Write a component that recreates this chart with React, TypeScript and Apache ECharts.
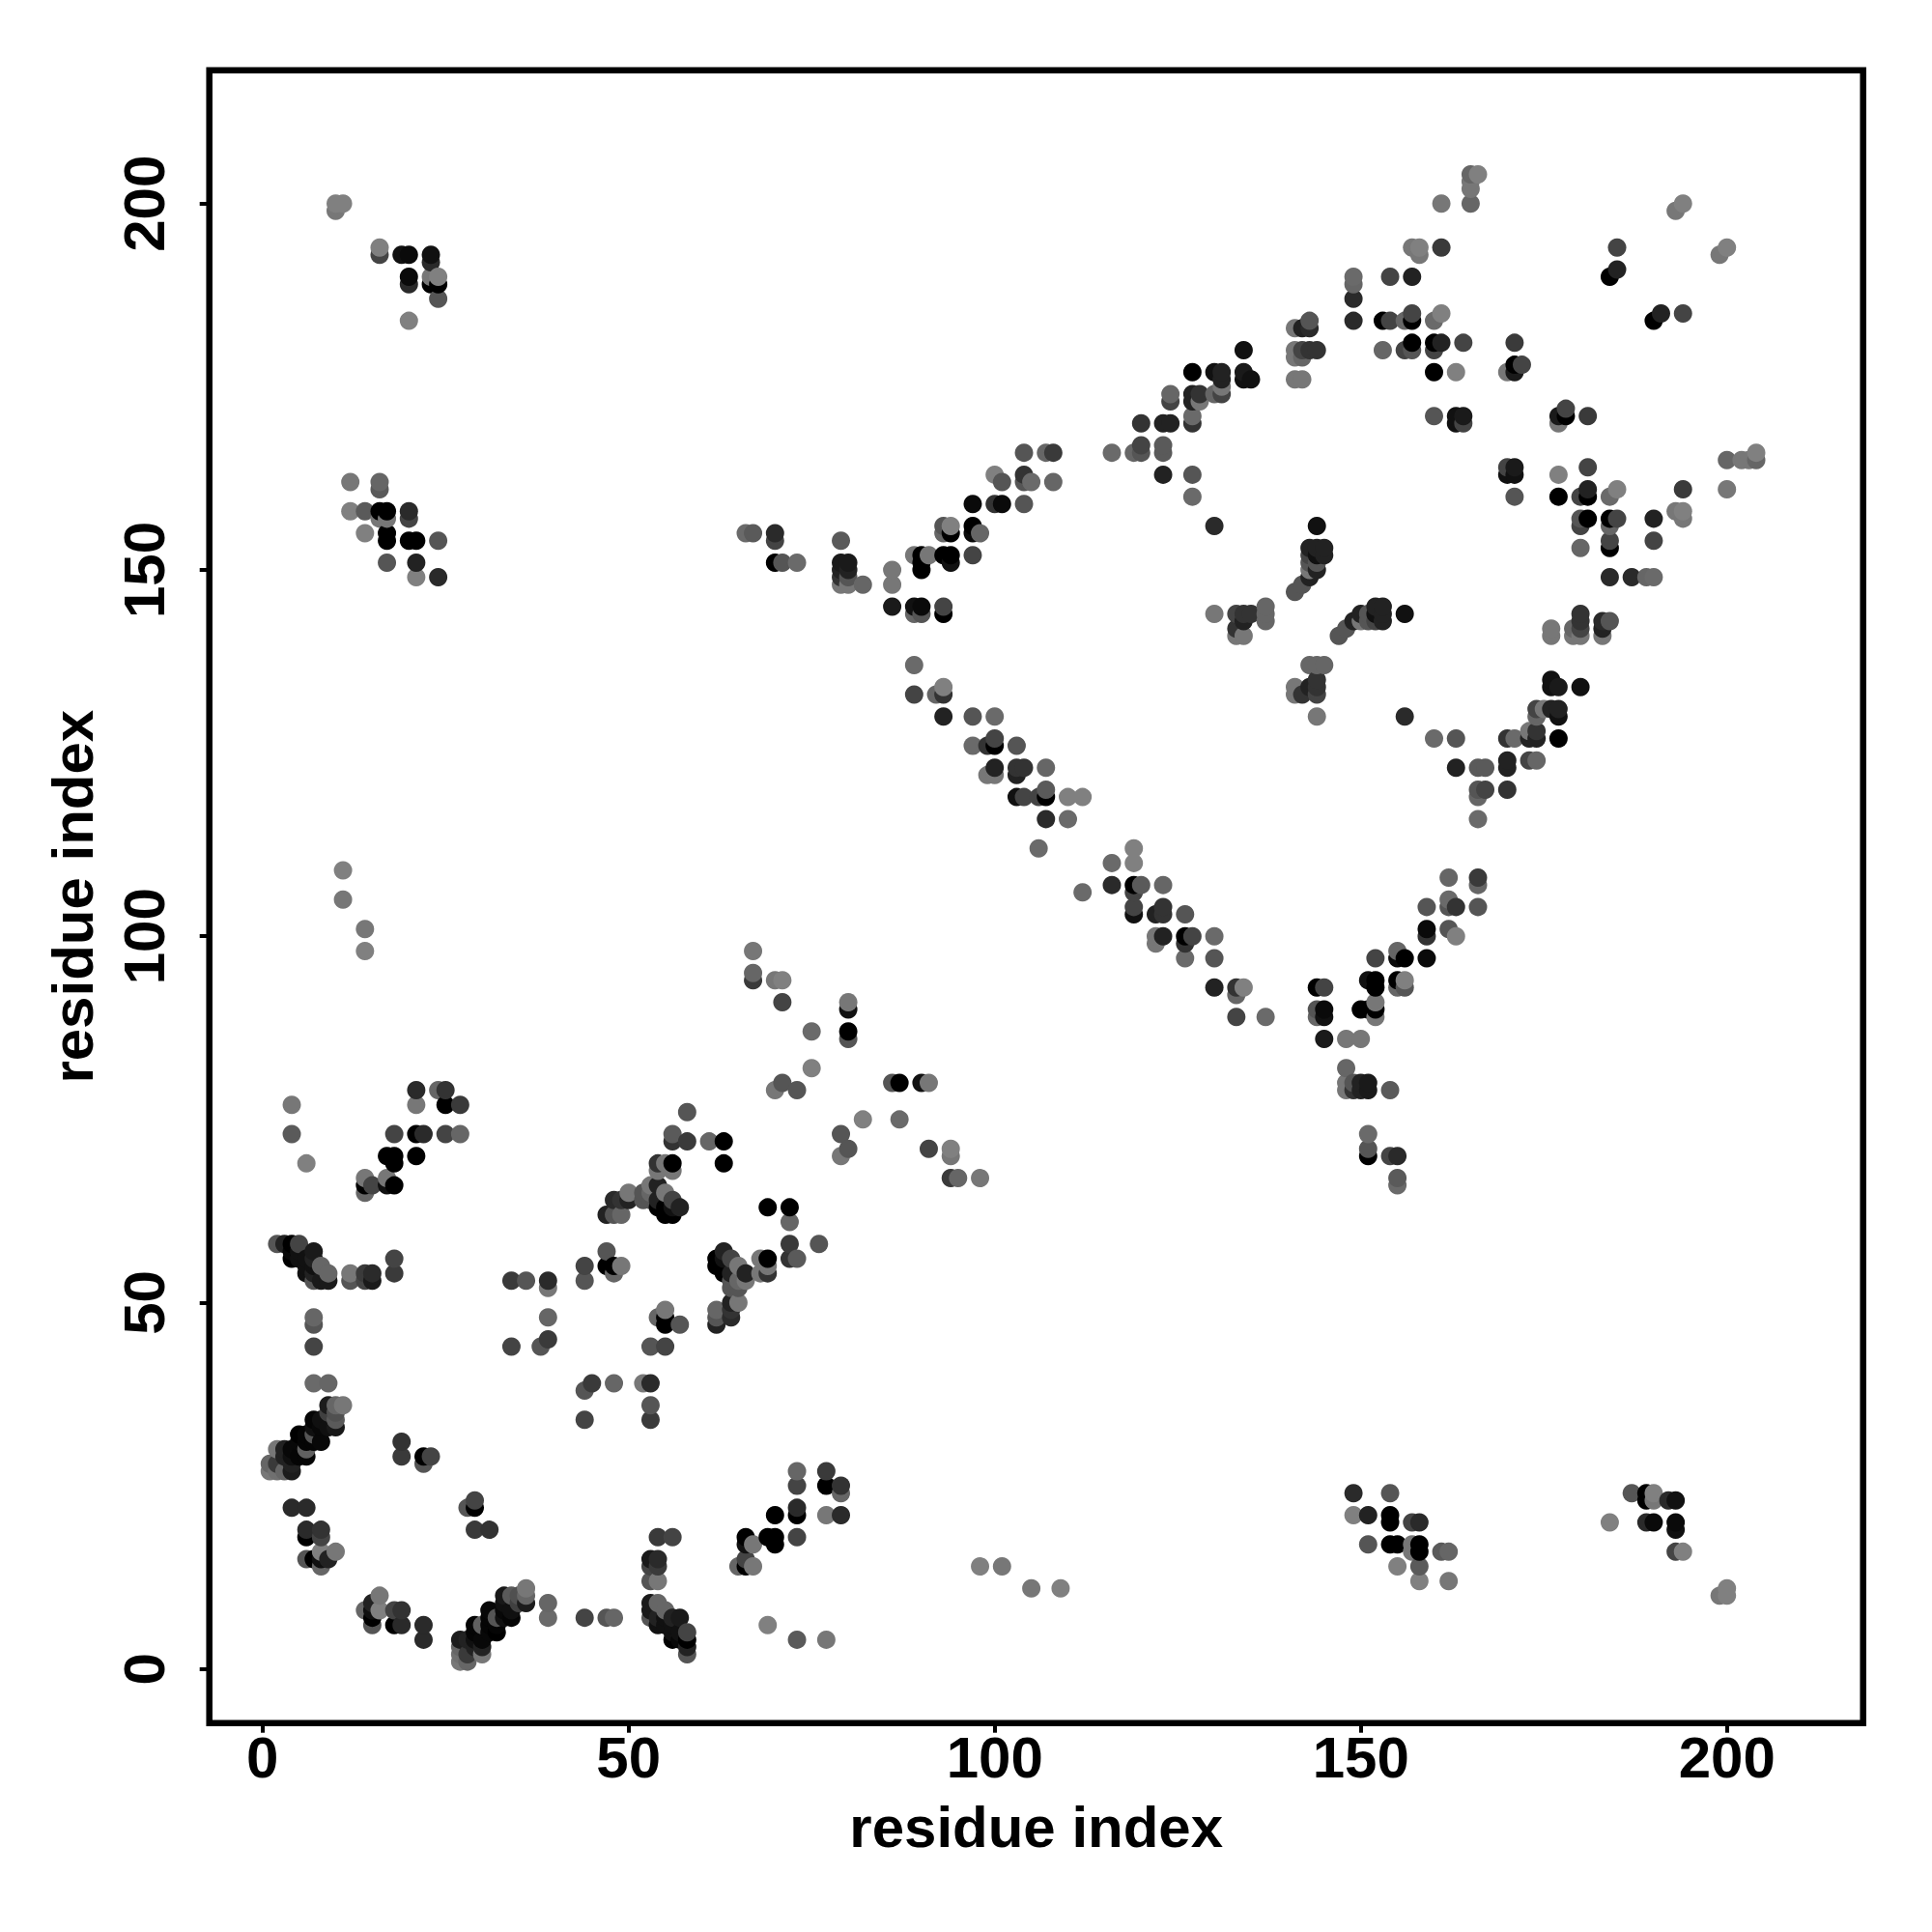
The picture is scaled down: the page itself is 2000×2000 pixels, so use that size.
import React, { useEffect, useRef } from "react";
import * as echarts from "echarts";

type C = [number, number, number];

const AXIS_TITLE = "residue index";
const TICKS = [0, 50, 100, 150, 200];

const helixA: C[] = [[1,27,0x78],[1,28,0x66],[2,27,0x70],[2,28,0x3a],[2,30,0x77],[3,27,0x66],[3,29,0x22],[3,30,0x22],[4,27,0x1c],[4,28,0x22],[4,29,0x10],[4,30,0x08],[5,29,0x05],[5,31,0x08],[5,32,0x00],[6,29,0x05],[6,30,0x60],[6,31,0x05],[6,32,0x05],[7,31,0x05],[7,32,0x55],[7,33,0x10],[7,34,0x05],[8,31,0x08],[8,33,0x08],[8,34,0x10],[9,33,0x10],[9,35,0x40],[9,36,0x1c],[10,33,0x18],[10,34,0x5a],[10,35,0x50],[10,36,0x66],[11,36,0x77]];
const nearA: C[] = [[9,39,0x66],[7,39,0x6a],[7,44,0x44],[7,47,0x55],[7,48,0x66],[6,15,0x55],[7,15,0x00],[8,15,0x10],[9,15,0x22],[8,14,0x66],[8,16,0x80],[10,16,0x77],[6,18,0x00],[6,19,0x2a],[8,18,0x44],[8,19,0x33],[4,22,0x2a],[6,22,0x2a],[19,29,0x3a],[19,31,0x33],[22,28,0x55],[22,29,0x00],[23,29,0x44]];
const rowB: C[] = [[34,44,0x44],[38,44,0x55],[39,45,0x3a],[39,48,0x66],[34,53,0x3a],[36,53,0x55],[39,53,0x2a],[39,52,0x77],[44,53,0x55],[44,55,0x44],[47,57,0x55],[47,55,0x00],[48,55,0x00],[49,55,0x77],[48,54,0x66],[44,38,0x55],[45,39,0x3a],[48,39,0x66],[52,39,0x77],[53,39,0x2a],[53,36,0x55],[53,34,0x3a],[44,34,0x44],[54,48,0x55],[55,49,0x77],[55,47,0x11],[57,47,0x44],[53,44,0x5a],[55,44,0x44]];
const lowRight: C[] = [[18,54,0x3a],[18,56,0x44],[15,53,0x1a],[15,54,0x2a],[14,53,0x44],[14,54,0x3a],[12,53,0x55],[12,54,0x77],[9,53,0x1a],[9,54,0x66],[8,53,0x1a],[8,55,0x66],[7,53,0x55],[7,54,0x22],[7,56,0x22],[7,57,0x1a],[6,54,0x11],[6,55,0x11],[5,56,0x11],[4,56,0x00],[5,58,0x44],[5,57,0x11],[4,58,0x00],[3,58,0x22],[2,58,0x55],[4,57,0x08],[6,56,0x11],[7,55,0x11]];
const farB: C[] = [[14,98,0x80],[14,101,0x77],[11,105,0x77],[11,109,0x80],[21,79,0x2a],[24,79,0x66],[25,79,0x33],[21,77,0x77],[25,77,0x00],[27,77,0x3a],[4,77,0x77],[4,73,0x5a],[6,69,0x80],[18,73,0x44],[21,73,0x00],[22,73,0x2a],[25,73,0x44],[27,73,0x66],[17,70,0x00],[18,70,0x00],[18,69,0x00],[21,70,0x00],[14,67,0x77],[17,67,0x77],[14,66,0x00],[15,66,0x44],[17,66,0x11],[18,66,0x00],[14,65,0x66]];
const strandC: C[] = [[58,76,0x55],[56,73,0x5a],[56,72,0x33],[58,72,0x3a],[61,72,0x66],[63,72,0x00],[63,69,0x00],[54,69,0x33],[55,69,0x77],[56,69,0x00],[54,68,0x77],[56,68,0x77],[50,65,0x77],[48,64,0x2a],[49,64,0x33],[53,66,0x77],[54,66,0x22],[55,65,0x77],[56,64,0x44],[57,63,0x22],[52,65,0x55],[53,65,0x66],[52,64,0x55],[53,64,0x55],[54,64,0x22],[54,63,0x00],[55,63,0x00],[55,62,0x00],[56,62,0x00],[47,62,0x22],[48,62,0x55],[49,62,0x66]];
const strandD: C[] = [[67,98,0x77],[67,95,0x66],[67,94,0x3a],[70,94,0x77],[71,94,0x80],[71,91,0x44],[80,91,0x77],[80,90,0x11],[75,87,0x6a],[80,87,0x00],[80,86,0x55],[75,82,0x80],[71,80,0x55],[70,79,0x77],[73,79,0x55],[82,75,0x80],[87,75,0x6a],[86,80,0x55],[87,80,0x0a],[90,80,0x11],[91,80,0x77],[79,73,0x5a],[80,71,0x55],[79,70,0x80],[91,71,0x3a],[94,71,0x80],[94,70,0x66],[94,67,0x33],[95,67,0x6a],[98,67,0x6a]];
const strandE: C[] = [[69,63,0x00],[72,63,0x00],[72,61,0x5a],[72,58,0x44],[76,58,0x55],[72,56,0x33],[73,56,0x5a],[68,56,0x77],[69,56,0x00],[69,55,0x80],[69,54,0x1a],[68,54,0x80],[62,56,0x00],[63,57,0x2a],[62,55,0x00],[63,56,0x11],[64,56,0x44],[65,55,0x66],[63,55,0x00],[64,54,0x11],[66,54,0x22],[66,53,0x77],[64,53,0x77],[65,53,0x55],[65,52,0x44],[64,52,0x55],[64,50,0x22],[65,50,0x6a],[64,49,0x22],[64,48,0x33],[62,49,0x66],[62,48,0x44],[62,47,0x2a]];
const cornerF: C[] = [[10,200,0x80],[11,200,0x80],[10,199,0x77],[16,194,0x80],[16,193,0x44],[19,193,0x11],[20,193,0x0a],[23,193,0x11],[23,192,0x2a],[20,190,0x0a],[20,189,0x2a],[23,190,0x77],[24,190,0x80],[23,189,0x00],[24,189,0x00],[24,187,0x55],[20,184,0x80]];
const cornerG: C[] = [[12,162,0x77],[16,162,0x66],[16,161,0x5a],[12,158,0x80],[14,158,0x5a],[16,157,0x77],[17,157,0x77],[16,158,0x00],[17,158,0x00],[20,157,0x44],[20,158,0x2a],[14,155,0x80],[17,155,0x00],[17,154,0x00],[20,154,0x00],[21,154,0x00],[24,154,0x55],[17,151,0x55],[21,151,0x22],[21,149,0x80],[24,149,0x2a]];
const lowH: C[] = [[73,27,0x66],[73,25,0x44],[77,27,0x3a],[77,25,0x0a],[79,25,0x2a],[79,24,0x55],[70,21,0x00],[73,22,0x2a],[73,21,0x00],[77,21,0x77],[79,21,0x2a],[66,18,0x00],[69,18,0x00],[70,18,0x00],[70,17,0x00],[73,18,0x3a],[66,17,0x00],[67,17,0x6a],[66,15,0x44],[65,14,0x66],[66,14,0x00],[67,14,0x80],[69,6,0x80],[73,4,0x55],[77,4,0x6a]];
const lowI: C[] = [[149,24,0x2a],[154,24,0x55],[149,21,0x77],[151,21,0x1a],[154,21,0x00],[154,20,0x00],[157,20,0x44],[158,20,0x33],[151,17,0x55],[154,17,0x00],[155,17,0x00],[157,17,0x80],[158,17,0x00],[157,16,0x80],[158,16,0x00],[161,16,0x55],[162,16,0x77],[155,14,0x80],[158,14,0x5a],[158,12,0x80],[162,12,0x80]];
const lowJ: C[] = [[187,24,0x55],[189,24,0x00],[190,24,0x80],[190,23,0x77],[189,23,0x00],[192,23,0x1a],[193,23,0x1a],[184,20,0x77],[189,20,0x22],[190,20,0x0a],[193,20,0x0a],[193,19,0x0a],[193,16,0x44],[194,16,0x80],[199,10,0x77],[200,11,0x80],[200,10,0x77]];
const bandK: C[] = [[66,155,0x6a],[67,155,0x5a],[70,155,0x2a],[70,154,0x44],[70,151,0x00],[71,151,0x55],[73,151,0x6a],[79,154,0x5a],[79,151,0x1a],[80,151,0x1a],[79,150,0x22],[80,150,0x22],[79,149,0x33],[80,149,0x55],[79,148,0x77],[80,148,0x77],[82,148,0x66],[86,150,0x77],[86,148,0x77],[86,145,0x1a],[89,145,0x11],[90,145,0x0a],[89,144,0x66],[90,144,0x55],[93,145,0x44],[93,144,0x00],[89,152,0x77],[90,152,0x00],[91,152,0x77],[90,150,0x00],[90,151,0x00],[93,152,0x00],[94,152,0x00],[94,151,0x11],[97,152,0x44],[93,156,0x55],[93,155,0x66],[94,156,0x80],[94,155,0x00],[97,156,0x00],[97,155,0x0a],[98,155,0x66],[97,159,0x0a],[100,159,0x33],[101,159,0x0a],[104,159,0x55],[100,163,0x80],[101,162,0x55],[104,163,0x33],[104,162,0x55],[105,162,0x6a],[108,162,0x66],[104,166,0x55],[107,166,0x66],[108,166,0x3a]];
const bandL: C[] = [[116,166,0x6a],[119,166,0x66],[120,167,0x44],[120,166,0x55],[123,167,0x5a],[123,166,0x5a],[123,163,0x22],[127,163,0x55],[127,160,0x6a],[120,170,0x33],[123,170,0x22],[124,170,0x22],[127,170,0x33],[130,156,0x2a],[124,174,0x66],[124,173,0x44],[127,174,0x22],[128,174,0x33],[127,173,0x22],[131,174,0x44],[127,177,0x00],[130,177,0x11],[131,177,0x22],[134,177,0x1a],[134,176,0x11],[135,176,0x11],[131,176,0x22],[134,180,0x11]];
const bandM: C[] = [[89,137,0x6a],[89,133,0x44],[92,133,0x66],[93,134,0x80],[93,133,0x33],[93,130,0x22],[97,130,0x55],[100,130,0x6a],[97,126,0x6a],[99,126,0x33],[100,127,0x44],[100,126,0x00],[103,126,0x55],[100,123,0x22],[99,122,0x77],[100,122,0x77],[103,123,0x33],[104,123,0x33],[103,122,0x22],[107,123,0x66],[103,119,0x11],[104,119,0x44],[106,119,0x44],[107,120,0x5a],[107,119,0x00],[110,119,0x80],[112,119,0x80],[107,116,0x2a],[110,116,0x6a],[106,112,0x6a]];
const bandN: C[] = [[116,110,0x66],[119,112,0x80],[119,110,0x80],[116,107,0x2a],[119,107,0x00],[120,107,0x55],[123,107,0x66],[112,106,0x6a],[119,106,0x33],[119,104,0x3a],[119,103,0x1a],[122,103,0x1a],[123,104,0x33],[123,103,0x33],[126,103,0x55],[122,100,0x77],[123,100,0x22],[122,99,0x77],[126,100,0x00],[127,100,0x44],[126,99,0x33],[130,100,0x66],[126,97,0x6a],[130,97,0x55],[130,93,0x2a],[133,93,0x2a],[133,92,0x55],[134,93,0x77],[133,89,0x44],[137,89,0x6a]];
const bandO: C[] = [[144,93,0x22],[145,93,0x33],[144,90,0x66],[145,90,0x0a],[144,89,0x66],[145,89,0x0a],[145,86,0x1a],[148,86,0x6a],[150,86,0x6a],[148,82,0x6a],[148,80,0x77],[148,79,0x66],[149,79,0x33],[149,80,0x77],[150,80,0x22],[150,79,0x22],[151,80,0x1a],[151,79,0x1a],[154,79,0x55],[151,73,0x6a],[151,71,0x44],[151,70,0x00],[154,70,0x44],[155,70,0x22],[155,67,0x5a],[155,66,0x6a],[150,90,0x0a],[152,91,0x77],[152,90,0x00],[152,89,0x77],[151,94,0x11],[152,94,0x00],[152,93,0x00],[155,94,0x11],[156,94,0x80],[155,93,0x44],[156,93,0x55],[152,97,0x44],[155,98,0x66],[155,97,0x00],[156,97,0x00],[159,97,0x0a],[159,101,0x00],[159,100,0x22],[162,101,0x66],[163,100,0x80],[159,104,0x5a],[162,105,0x6a],[162,104,0x55],[163,104,0x33],[166,104,0x55],[162,108,0x77],[166,108,0x44],[166,107,0x5a]];
const sheetP: C[] = [[200,165,0x66],[202,165,0x77],[203,165,0x77],[204,166,0x80],[204,165,0x66],[200,161,0x77],[194,161,0x3a],[193,158,0x77],[194,158,0x80],[194,157,0x77],[190,157,0x22],[190,154,0x44],[170,164,0x44],[171,164,0x1a],[170,163,0x11],[171,163,0x11],[171,160,0x55],[177,163,0x80],[181,164,0x44],[177,160,0x00],[180,160,0x44],[181,161,0x22],[181,160,0x00],[184,160,0x6a],[185,161,0x80],[180,157,0x55],[181,157,0x00],[180,156,0x44],[184,157,0x00],[185,157,0x44],[184,156,0x66],[184,154,0x44],[184,153,0x00],[180,153,0x66],[184,149,0x2a],[187,149,0x2a],[189,149,0x66],[190,149,0x6a]];
const sheetQ: C[] = [[176,142,0x77],[176,141,0x77],[179,142,0x66],[180,144,0x33],[180,143,0x33],[180,142,0x44],[179,141,0x77],[180,141,0x77],[183,143,0x2a],[184,143,0x55],[183,142,0x22],[183,141,0x77],[176,135,0x1a],[176,134,0x11],[177,134,0x1a],[180,134,0x11],[174,131,0x00],[175,131,0x77],[176,131,0x00],[177,131,0x00],[177,130,0x11],[174,130,0x66],[173,128,0x77],[174,128,0x44],[173,127,0x55],[174,127,0x00],[177,127,0x0a],[160,127,0x77],[163,127,0x66],[170,127,0x33],[171,127,0x6a],[173,124,0x55],[174,124,0x77],[163,123,0x22],[166,123,0x5a],[167,123,0x66],[170,124,0x2a],[170,123,0x2a],[166,120,0x66],[167,120,0x44],[166,119,0x6a],[170,120,0x44],[166,116,0x77]];
const topR: C[] = [[165,204,0x77],[166,204,0x80],[165,203,0x77],[165,202,0x77],[165,200,0x6a],[161,200,0x77],[157,194,0x80],[158,194,0x80],[158,193,0x77],[161,194,0x3a],[149,190,0x77],[149,189,0x77],[149,187,0x2a],[149,184,0x2a],[154,190,0x55],[157,190,0x1a],[153,184,0x00],[154,184,0x44],[156,184,0x66],[157,185,0x44],[157,184,0x00],[160,184,0x6a],[161,185,0x80],[157,181,0x00],[156,180,0x55],[157,180,0x55],[153,180,0x55],[160,181,0x00],[161,181,0x2a],[160,180,0x44],[164,181,0x44],[160,177,0x00],[163,177,0x80],[171,181,0x3a],[171,178,0x00],[172,178,0x44],[170,177,0x77],[171,177,0x1a],[141,183,0x77],[142,183,0x22],[143,184,0x55],[143,183,0x22],[141,180,0x77],[142,180,0x55],[143,180,0x33],[144,180,0x22],[141,179,0x77],[142,179,0x66],[141,176,0x77],[142,176,0x80],[144,156,0x11],[160,171,0x55],[163,171,0x2a],[164,171,0x22],[163,170,0x22],[164,170,0x44],[177,170,0x66],[177,171,0x1a],[178,172,0x44],[178,171,0x00],[181,171,0x3a],[185,194,0x44],[184,190,0x00],[185,191,0x22],[193,199,0x77],[194,200,0x80],[190,184,0x00],[191,185,0x22],[194,185,0x55],[199,193,0x77],[200,194,0x80]];
const middleS: C[] = [[130,144,0x77],[133,144,0x44],[134,144,0x33],[135,144,0x33],[137,144,0x66],[137,143,0x66],[133,141,0x77],[134,141,0x77],[133,142,0x33],[134,143,0x22],[141,147,0x55],[142,148,0x55],[143,149,0x22],[143,150,0x77],[144,150,0x22],[144,151,0x55],[143,152,0x44],[144,153,0x22],[145,153,0x22],[144,152,0x11],[145,152,0x22],[147,141,0x55],[148,142,0x55],[149,143,0x66],[150,144,0x66],[151,144,0x33],[152,145,0x22],[153,145,0x22],[152,143,0x22],[153,143,0x22],[150,143,0x66],[151,143,0x55],[156,144,0x11],[141,134,0x66],[141,133,0x77],[143,137,0x55],[144,137,0x55],[145,137,0x66],[143,134,0x55],[144,134,0x22],[144,133,0x33],[144,130,0x77],[156,130,0x33]];

const contacts: C[] = [...helixA, ...nearA, ...rowB, ...lowRight, ...farB, ...strandC, ...strandD, ...strandE, ...cornerF, ...cornerG, ...lowH, ...lowI, ...lowJ, ...bandK, ...bandL, ...bandM, ...bandN, ...bandO, ...sheetP, ...sheetQ, ...topR, ...middleS];

// A contact map holds each residue pair in both orders; later residues are painted on top.
function buildPoints() {
  const seen = new Map<string, C>();
  for (const [a, b, g] of contacts) {
    for (const p of [[a, b, g], [b, a, g]] as C[]) {
      const k = p[0] + "," + p[1];
      if (!seen.has(k)) seen.set(k, p);
    }
  }
  return [...seen.values()].sort((p, q) => p[0] - q[0] || p[1] - q[1]);
}

export default function App() {
  const ref = useRef<HTMLDivElement>(null);
  useEffect(() => {
    const chart = echarts.init(ref.current!, undefined, { renderer: "svg" });
    const font = { fontFamily: "Liberation Sans", fontWeight: "bold" as const, color: "#000" };
    chart.setOption({
      animation: false,
      backgroundColor: "#fff",
      grid: { left: 216.7, top: 72.7, width: 1712, height: 1711, show: true, borderColor: "#000", borderWidth: 6.5, backgroundColor: "transparent" },
      xAxis: {
        type: "value", min: -7.256, max: 218.6,
        name: AXIS_TITLE, nameLocation: "middle", nameGap: 78,
        nameTextStyle: { ...font, fontSize: 60 },
        splitLine: { show: false }, axisLine: { show: false, onZero: false },
        axisTick: { show: true, length: 10, lineStyle: { color: "#000", width: 4 }, customValues: TICKS },
        axisLabel: { ...font, fontSize: 60, margin: 6, customValues: TICKS, showMinLabel: true, showMaxLabel: true },
      },
      yAxis: {
        type: "value", min: -7.38, max: 218.2,
        name: AXIS_TITLE, nameLocation: "middle", nameGap: 111, nameRotate: 90,
        nameTextStyle: { ...font, fontSize: 60 },
        splitLine: { show: false }, axisLine: { show: false, onZero: false },
        axisTick: { show: true, length: 10, lineStyle: { color: "#000", width: 4 }, customValues: TICKS },
        axisLabel: { ...font, fontSize: 60, margin: 37, rotate: 90, customValues: TICKS, showMinLabel: true, showMaxLabel: true },
      },
      series: [{
        type: "scatter",
        symbol: "circle",
        symbolSize: 19,
        data: buildPoints().map(([x, y, g]) => ({ value: [x, y], itemStyle: { color: `rgb(${g},${g},${g})`, opacity: 1 } })),
        silent: true,
      }],
    });
    return () => chart.dispose();
  }, []);
  return <div ref={ref} style={{ position: "absolute", left: 0, top: 0, width: 2000, height: 2000 }} />;
}
